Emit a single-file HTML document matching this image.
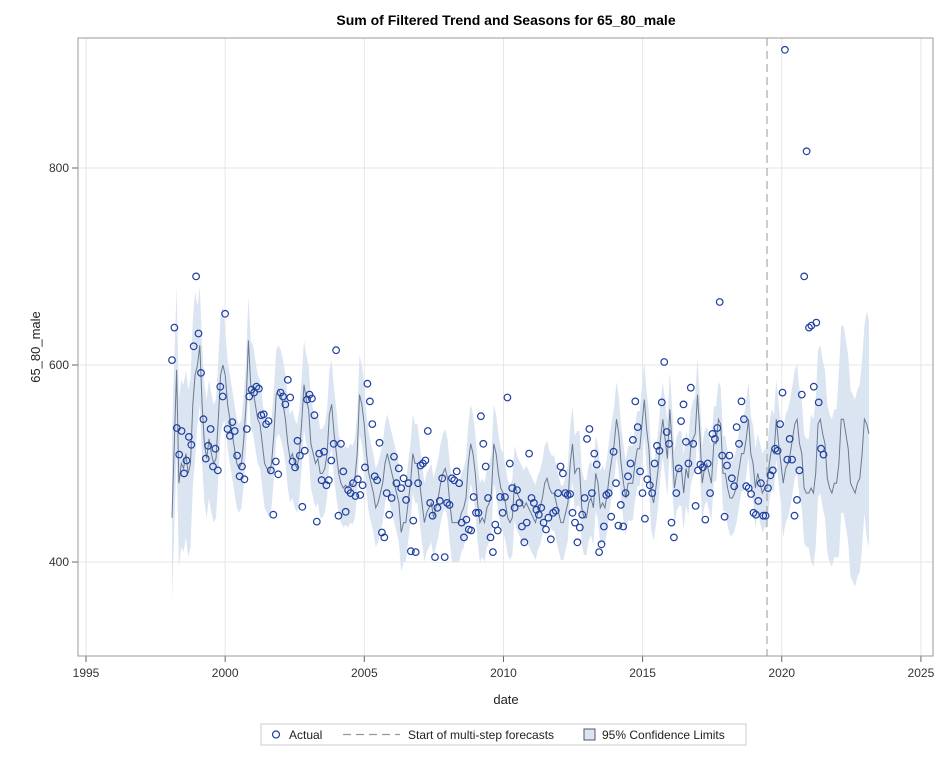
<!DOCTYPE html>
<html><head><meta charset="utf-8"><style>
body{margin:0;background:#fff;font-family:"Liberation Sans",Arial,sans-serif;}
svg text{font-family:"Liberation Sans",Arial,sans-serif;}
</style></head><body>
<svg id="chart" width="945" height="757" viewBox="0 0 945 757">
<text x="506" y="25" text-anchor="middle" font-size="14" font-weight="bold" fill="#000">Sum of Filtered Trend and Seasons for 65_80_male</text>
<g id="grid"></g><g id="band"></g><g id="lines"></g><g id="pts"></g><g id="axes"></g>
<text x="506" y="704" text-anchor="middle" font-size="13" fill="#222">date</text>
<text x="0" y="0" transform="translate(40,347) rotate(-90)" text-anchor="middle" font-size="13" fill="#222">65_80_male</text>
<g>
<rect x="261" y="724" width="485" height="21" fill="#fff" stroke="#ccc"/>
<g><circle cx="276" cy="734.5" r="3.5" fill="none" stroke="#1f3fa0" stroke-width="1.2"/><text x="289" y="739" font-size="12" fill="#222">Actual</text></g>
<g><line x1="343" y1="734.5" x2="400" y2="734.5" stroke="#999" stroke-dasharray="8,5" stroke-width="1.2"/><text x="408" y="739" font-size="12" fill="#222">Start of multi-step forecasts</text></g>
<g><rect x="584" y="729" width="11" height="11" fill="#dbe4f1" stroke="#556"/><text x="602" y="739" font-size="12" fill="#222">95% Confidence Limits</text></g>
</g>
</svg>
<script>
const startYear = 1998.09;
const endYear = 2021.5;
const actual = [
605,638,536,509,533,490,503,527,519,619,690,
632,592,545,505,518,535,497,515,493,578,568,652,
535,528,542,533,508,487,497,484,535,568,575,572,
578,576,549,550,540,543,493,448,502,489,572,568,
560,585,567,502,496,523,508,456,513,565,570,566,
549,441,510,483,512,478,483,503,520,615,447,520,
492,451,473,470,480,467,484,468,478,496,581,563,
540,487,483,521,430,425,470,448,465,507,480,495,
475,485,463,480,411,442,410,480,498,500,503,533,
460,447,405,455,462,485,405,460,458,485,483,492,
480,440,425,443,433,432,466,450,450,548,520,497,
465,425,410,438,432,466,450,466,567,500,475,455,
473,460,436,420,440,510,465,460,453,448,455,440,
433,445,423,450,452,470,497,490,470,468,469,450,
440,420,435,448,465,525,535,470,510,499,410,418,
436,468,470,446,512,480,437,458,436,470,487,500,
524,563,537,492,470,444,484,478,470,500,518,513,
562,603,532,520,440,425,470,495,543,560,522,500,
577,520,457,493,499,496,443,500,470,530,525,536,
664,508,446,498,508,485,477,537,520,563,545,477,
475,469,450,448,462,480,447,447,475,488,493,515,
513,540,572,920,504,525,504,447,463,493,570,690,
817,638,640,578,643,562,515,509];
const fitted = [
445,520,595,480,500,495,510,490,500,560,590,
600,620,560,520,505,525,510,500,505,545,590,600,
590,560,545,530,515,500,495,500,525,560,625,580,
575,560,545,540,520,500,495,490,500,530,570,575,
570,560,545,520,505,510,500,495,510,540,580,565,
555,520,510,500,505,490,490,495,510,550,560,530,
510,490,480,475,478,475,480,478,485,510,570,560,
540,510,490,480,470,455,460,470,480,500,510,500,
490,480,470,460,430,440,440,460,480,510,500,500,
480,460,440,450,455,460,445,455,465,480,490,495,
485,460,440,440,440,440,450,455,465,500,520,510,
490,460,440,445,440,455,460,470,520,510,490,475,
470,460,445,440,445,480,470,465,460,455,460,455,
450,445,440,450,455,465,480,485,475,470,470,460,
450,440,440,450,460,500,520,490,495,495,455,445,
445,460,465,455,490,480,455,460,455,470,490,505,
520,545,530,500,480,465,480,480,480,500,515,515,
540,565,535,515,470,460,475,495,525,545,525,505,
555,520,475,490,495,495,470,495,485,515,525,530,
570,530,480,495,500,490,480,520,520,545,540,490,
490,475,465,465,470,480,495,510,510,525,545,510,
500,475,490,480,470,475];
const forecast = [475,500,515,510,545,520,500,480,495,500,510,525,540,545,520,510,475,470,470,475,470,490,540,545,530,520,485,475,470,480,480,500,545,545,530,515,480,475,470,480,485,510,545,540,530];
const bandHalf = [85,60,45,45,45,45,40,40,40,40,40,40,38,38,38,38,38,38,38,38,38,40,55,75,95,115];
const xTicks = [1995,2000,2005,2010,2015,2020,2025];
const yTicks = [400,600,800];
const forecastStart = 2019.47;

const NS='http://www.w3.org/2000/svg';
const L=78,R=933,T=38,B=656;
const xs = yr => 86 + (yr-1995)*27.83;
const ys = v => 562 - (v-400)*0.985;
function mk(tag, attrs, parent){const e=document.createElementNS(NS,tag);for(const k in attrs)e.setAttribute(k,attrs[k]);parent.appendChild(e);return e;}
const grid=document.getElementById('grid'),axes=document.getElementById('axes');
xTicks.forEach(t=>{
  const g=mk('line',{x1:xs(t),x2:xs(t),y1:T,y2:B,stroke:'#e6e6e6'},grid);
  
  
  mk('line',{x1:xs(t),x2:xs(t),y1:B,y2:B+6,stroke:'#666'},axes);
  const tx=mk('text',{x:xs(t),y:B+21,'text-anchor':'middle','font-size':'12',fill:'#333'},axes);
  tx.textContent=t;
  
  
});
yTicks.forEach(t=>{
  const g=mk('line',{x1:L,x2:R,y1:ys(t),y2:ys(t),stroke:'#e6e6e6'},grid);
  
  
  mk('line',{x1:L-6,x2:L,y1:ys(t),y2:ys(t),stroke:'#666'},axes);
  const tx=mk('text',{x:L-9,y:ys(t)+4,'text-anchor':'end','font-size':'12',fill:'#333'},axes);
  tx.textContent=t;
  
  
});
const frame=mk('rect',{x:L,y:T,width:R-L,height:B-T,fill:'none',stroke:'#999'},axes);



function half(yr){let i=Math.floor(yr)-1998;i=Math.max(0,Math.min(bandHalf.length-1,i));return bandHalf[i];}
const fitStep=(forecastStart-startYear)/fitted.length;
const actStep=(endYear-startYear)/(actual.length-1);
const line=[];
fitted.forEach((v,i)=>line.push([startYear+i*fitStep,v]));
forecast.forEach((v,i)=>line.push([forecastStart+i/12,v]));
let up='',lo='';
line.forEach(([yr,v],i)=>{up+=(i?'L':'M')+xs(yr).toFixed(1)+','+ys(v+half(yr)).toFixed(1);});
for(let i=line.length-1;i>=0;i--){const [yr,v]=line[i];lo+='L'+xs(yr).toFixed(1)+','+ys(v-half(yr)).toFixed(1);}
const band=mk('path',{d:up+lo+'Z',fill:'#dbe4f1'},document.getElementById('band'));


const pl=mk('polyline',{points:line.map(([yr,v])=>xs(yr).toFixed(1)+','+ys(v).toFixed(1)).join(' '),fill:'none',stroke:'#6b7a90','stroke-width':'1'},document.getElementById('lines'));


const dl=mk('line',{x1:xs(forecastStart),x2:xs(forecastStart),y1:T,y2:B,stroke:'#999','stroke-dasharray':'8,5'},document.getElementById('lines'));


const pts=document.getElementById('pts');
actual.forEach((v,i)=>{
  const c=mk('circle',{cx:xs(startYear+i*actStep).toFixed(1),cy:ys(v).toFixed(1),r:3.3,fill:'none',stroke:'#1f3fa0','stroke-width':'1.2'},pts);
  
  
});
</script>
</body></html>
